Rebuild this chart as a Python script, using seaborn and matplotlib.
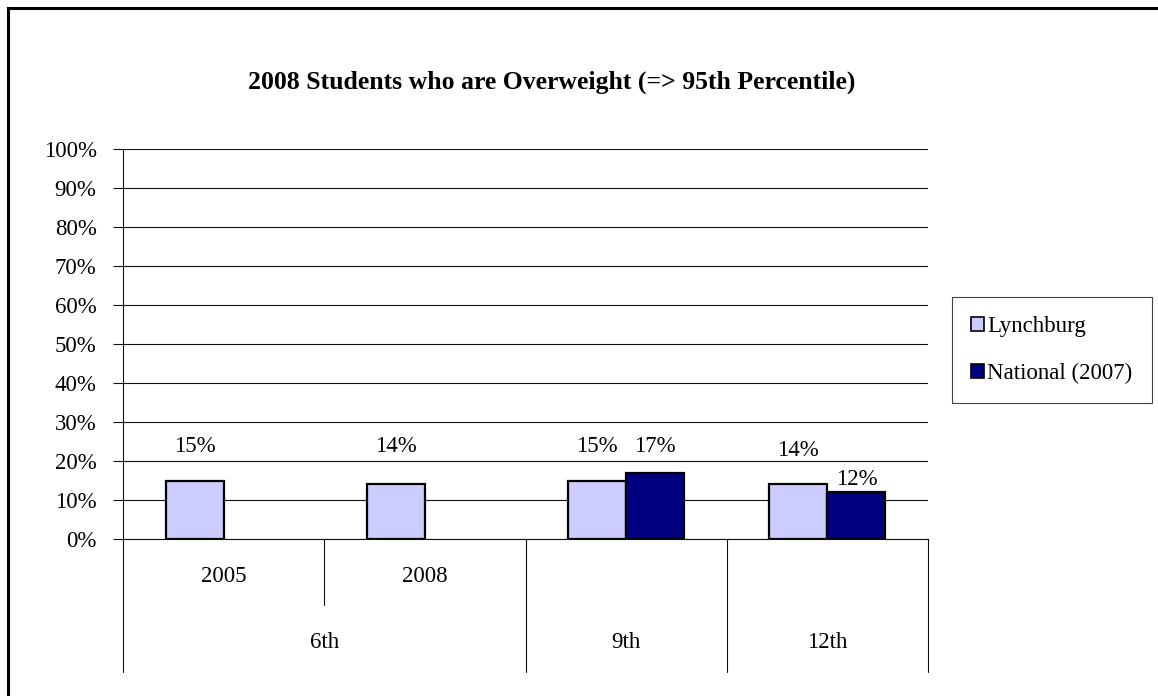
import numpy as np
import pandas as pd
import matplotlib
matplotlib.use("Agg")
import matplotlib.pyplot as plt
from matplotlib.patches import Rectangle, Patch
import seaborn as sns

# ---- data ----
groups = ["6th", "6th", "9th", "12th"]
subcats = ["2005", "2008", "", ""]
categories = ["6th 2005", "6th 2008", "9th", "12th"]
series = ["Lynchburg", "National (2007)"]
lynchburg = [0.15, 0.14, 0.15, 0.14]
national = [np.nan, np.nan, 0.17, 0.12]
yticks = [0.0, 0.1, 0.2, 0.3, 0.4, 0.5, 0.6, 0.7, 0.8, 0.9, 1.0]
title = "2008 Students who are Overweight (=> 95th Percentile)"

df = pd.DataFrame({
    "cat": categories * 2,
    "series": [series[0]] * 4 + [series[1]] * 4,
    "value": lynchburg + national,
})

sns.set_theme(style="white")
plt.rcParams["font.family"] = ["Liberation Serif", "DejaVu Serif"]
plt.rcParams["text.color"] = "black"
plt.rcParams["ytick.color"] = "black"
plt.rcParams["ytick.labelcolor"] = "black"
FS = 16.5
colors = {"Lynchburg": "#CCCCFF", "National (2007)": "#000080"}

fig = plt.figure(figsize=(11.58, 6.96), dpi=100)
W, H = 1158, 696
ax = fig.add_axes([123 / W, 1 - 539 / H, (928 - 123) / W, (539 - 149) / H])

sns.barplot(data=df, x="cat", y="value", hue="series", order=categories,
            hue_order=series, palette=colors, width=0.577, saturation=1,
            edgecolor="black", linewidth=1.6, ax=ax, legend=False, zorder=3)

LC = "#111111"
ax.set_xlim(-0.5, 3.5)
ax.set_ylim(0, 1)
ax.set_yticks(yticks)
ax.set_yticklabels([f"{int(round(t * 100))}%" for t in yticks], fontsize=FS,
                   color="black")
ax.yaxis.grid(True, color=LC, linewidth=0.8, zorder=0)
ax.set_axisbelow(True)
ax.tick_params(axis="y", length=7, width=0.8, color=LC, left=True, pad=12)
ax.tick_params(axis="x", length=0)
ax.set_xticks([])
ax.set_xlabel("")
ax.set_ylabel("")
for s in ["top", "right"]:
    ax.spines[s].set_visible(False)
for s in ["left", "bottom"]:
    ax.spines[s].set_color(LC)
    ax.spines[s].set_linewidth(0.8)

# multi-level category axis
tr = ax.get_xaxis_transform()
outer_depth = -(672 - 539) / 390
inner_depth = -(605 - 539) / 390
for xb in [-0.5, 1.5, 2.5, 3.5]:
    ax.plot([xb, xb], [0, outer_depth], transform=tr, color=LC,
            lw=0.8, clip_on=False)
ax.plot([0.5, 0.5], [0, inner_depth], transform=tr, color=LC,
        lw=0.8, clip_on=False)
for i, sc in enumerate(subcats):
    if sc:
        ax.text(i, -(577 - 539) / 390, sc, transform=tr, ha="center",
                va="center", fontsize=FS, color="black")
uniq = []
for g in groups:
    if g not in uniq:
        uniq.append(g)
for g in uniq:
    idx = [i for i, gg in enumerate(groups) if gg == g]
    ax.text(np.mean(idx), -(643 - 539) / 390, g, transform=tr, ha="center",
            va="center", fontsize=FS, color="black")

# value labels
half = 0.577 / 4
label_y = {0: [0.236, 0.236, 0.236, 0.228], 1: [None, None, 0.236, 0.152]}
for si, vals in enumerate([lynchburg, national]):
    for i, v in enumerate(vals):
        if v is None or np.isnan(v):
            continue
        xpos = i + (-half if si == 0 else half)
        ax.text(xpos, label_y[si][i], f"{int(round(v * 100))}%", ha="center",
                va="center", fontsize=FS, color="black")

# title
fig.text(552 / W, 1 - 82 / H, title, ha="center", va="center",
         fontsize=18.5, fontweight="bold", color="black")

# legend
handles = [Patch(facecolor=colors[s], edgecolor="black", linewidth=1.2)
           for s in series]
leg = fig.legend(handles, series, loc="upper left",
                 bbox_to_anchor=(952 / W, 1 - 297 / H), fontsize=FS,
                 frameon=True, fancybox=False, handlelength=0.55,
                 handleheight=0.55, handletextpad=0.12, labelspacing=1.1,
                 borderpad=0.85, borderaxespad=0)
leg.get_frame().set_edgecolor(LC)
leg.get_frame().set_linewidth(0.8)
for t in leg.get_texts():
    t.set_color("black")

# outer border
fig.patches.append(Rectangle((8 / W, -0.05), 1.2, 1 - 8 / H + 0.05,
                             transform=fig.transFigure, fill=False,
                             edgecolor="black", linewidth=2.2))

fig.savefig("out.png", dpi=100)
